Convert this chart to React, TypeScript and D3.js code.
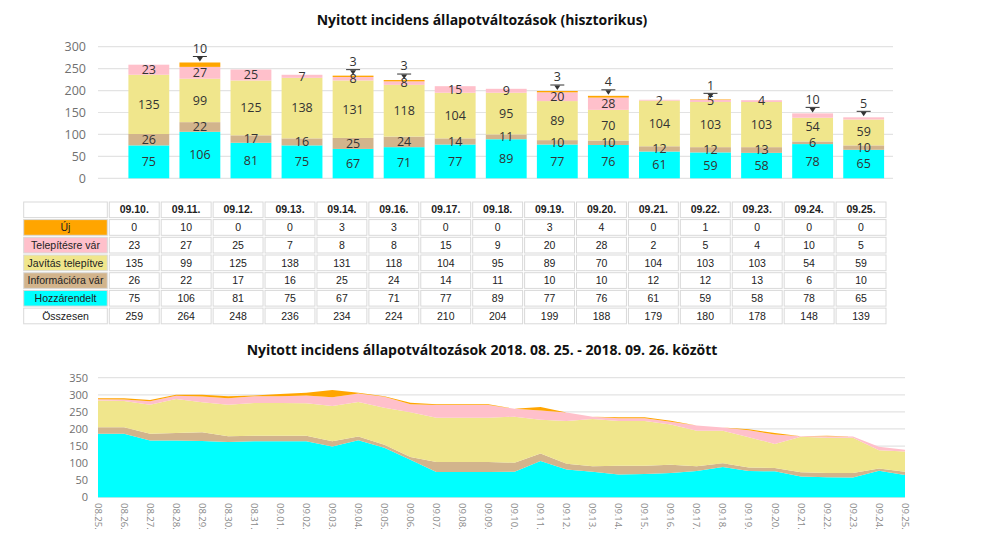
import React from "react";
import * as d3 from "d3";

// ---------- Top chart / table data ----------
const dates = ["09.10.", "09.11.", "09.12.", "09.13.", "09.14.", "09.16.", "09.17.", "09.18.", "09.19.", "09.20.", "09.21.", "09.22.", "09.23.", "09.24.", "09.25."];
const ujValues = [0, 10, 0, 0, 3, 3, 0, 0, 3, 4, 0, 1, 0, 0, 0];
const telepitesreVarValues = [23, 27, 25, 7, 8, 8, 15, 9, 20, 28, 2, 5, 4, 10, 5];
const javitasValues = [135, 99, 125, 138, 131, 118, 104, 95, 89, 70, 104, 103, 103, 54, 59];
const informaciotValues = [26, 22, 17, 16, 25, 24, 14, 11, 10, 10, 12, 12, 13, 6, 10];
const hozzarendeltValues = [75, 106, 81, 75, 67, 71, 77, 89, 77, 76, 61, 59, 58, 78, 65];
const osszesenValues = [259, 264, 248, 236, 234, 224, 210, 204, 199, 188, 179, 180, 178, 148, 139];

// ---------- Bottom area chart data ----------
const areaDates = ["08.25.", "08.26.", "08.27.", "08.28.", "08.29.", "08.30.", "08.31.", "09.01.", "09.02.", "09.03.", "09.04.", "09.05.", "09.06.", "09.07.", "09.08.", "09.09.", "09.10.", "09.11.", "09.12.", "09.13.", "09.14.", "09.15.", "09.16.", "09.17.", "09.18.", "09.19.", "09.20.", "09.21.", "09.22.", "09.23.", "09.24.", "09.25."];
const areaHozzarendelt = [186, 186, 166, 166, 165, 162, 164, 164, 164, 149, 167, 145, 110, 74, 74, 74, 75, 106, 81, 75, 67, 68, 71, 77, 89, 77, 76, 61, 59, 58, 78, 65];
const areaInformaciora = [19, 19, 20, 22, 25, 17, 16, 16, 16, 15, 11, 9, 8, 29, 29, 29, 26, 22, 17, 16, 25, 24, 24, 14, 11, 10, 10, 12, 12, 13, 6, 10];
const areaJavitas = [78, 77, 85, 100, 88, 92, 96, 96, 95, 103, 101, 108, 131, 130, 130, 130, 135, 99, 125, 138, 131, 131, 118, 104, 95, 89, 70, 104, 103, 103, 54, 59];
const areaTelepitesre = [4, 4, 10, 9, 17, 19, 20, 20, 23, 26, 25, 32, 23, 37, 37, 37, 23, 27, 25, 7, 8, 8, 8, 15, 9, 20, 28, 2, 5, 4, 10, 5];
const areaUj = [3, 4, 4, 3, 5, 6, 2, 6, 8, 21, 2, 2, 5, 2, 2, 2, 0, 10, 0, 0, 3, 3, 3, 0, 0, 3, 4, 0, 1, 0, 0, 0];

const topTicks = [0, 50, 100, 150, 200, 250, 300];
const areaTicks = [0, 50, 100, 150, 200, 250, 300, 350];

// series order bottom -> top
const seriesKeys = ["Hozzárendelt", "Információra vár", "Javítás telepítve", "Telepítésre vár", "Új"];
const seriesColors: Record<string, string> = {
  "Új": "#FFA500",
  "Telepítésre vár": "#FFC0CB",
  "Javítás telepítve": "#F0E68C",
  "Információra vár": "#D2B48C",
  "Hozzárendelt": "#00FFFF",
};
// labels drawn as callouts above the bar
const calloutExtra = [["09.24.", "Telepítésre vár"], ["09.25.", "Telepítésre vár"]];

const topRows = dates.map((d, i) => ({
  date: d,
  "Új": ujValues[i],
  "Telepítésre vár": telepitesreVarValues[i],
  "Javítás telepítve": javitasValues[i],
  "Információra vár": informaciotValues[i],
  "Hozzárendelt": hozzarendeltValues[i],
}));
const areaRows = areaDates.map((d, i) => ({
  date: d,
  "Új": areaUj[i],
  "Telepítésre vár": areaTelepitesre[i],
  "Javítás telepítve": areaJavitas[i],
  "Információra vár": areaInformaciora[i],
  "Hozzárendelt": areaHozzarendelt[i],
}));

const tableRows = [
  { label: "Új", values: ujValues, color: seriesColors["Új"] },
  { label: "Telepítésre vár", values: telepitesreVarValues, color: seriesColors["Telepítésre vár"] },
  { label: "Javítás telepítve", values: javitasValues, color: seriesColors["Javítás telepítve"] },
  { label: "Információra vár", values: informaciotValues, color: seriesColors["Információra vár"] },
  { label: "Hozzárendelt", values: hozzarendeltValues, color: seriesColors["Hozzárendelt"] },
  { label: "Összesen", values: osszesenValues, color: "#FFFFFF" },
];

const TITLE_FONT = "'Open Sans', 'Noto Sans', sans-serif";
const LABEL_FONT = "'Open Sans', 'Noto Sans', sans-serif";
const TABLE_FONT = "'Liberation Sans', Arial, sans-serif";

export default function App() {
  // ---- top bar chart ----
  const xBar = d3.scaleBand<string>().domain(dates).range([123.3, 889.2]).paddingInner(0.2).paddingOuter(0.1);
  const yBar = d3.scaleLinear().domain([0, 300]).range([178.3, 46.7]);
  const stack = d3.stack<any>().keys(seriesKeys);
  const barSeries = stack(topRows);

  const isCallout = (date: string, key: string, v: number) =>
    (key === "Új" && v > 0) || calloutExtra.some(([d, k]) => d === date && k === key);

  // build label list with simple collision avoidance per bar (bottom -> top)
  type Lbl = { key: string; date: string; v: number; x: number; y: number; callout: boolean; top: number };
  const labels: Lbl[] = [];
  dates.forEach((date) => {
    let prevY = Infinity;
    barSeries.forEach((s: any) => {
      const d = s.find((e: any) => e.data.date === date);
      const v = d[1] - d[0];
      if (v <= 0) return;
      const cx = (xBar(date) as number) + xBar.bandwidth() / 2;
      if (isCallout(date, s.key, v)) {
        labels.push({ key: s.key, date, v, x: cx, y: yBar(d[1]) - 14, callout: true, top: yBar(d[1]) });
        return;
      }
      let cy = (yBar(d[0]) + yBar(d[1])) / 2;
      if (prevY - cy < 16) cy = prevY - 16;
      prevY = cy;
      labels.push({ key: s.key, date, v, x: cx, y: cy, callout: false, top: yBar(d[1]) });
    });
  });

  // ---- table ----
  const tableLeft = 22.7;
  const labelColRight = 108.3;
  const tableRight = 887;
  const xCol = d3.scaleBand<string>().domain(dates).range([labelColRight, tableRight]);
  const headerTop = 201;
  const headerH = 17.6;
  const rowH = 17.7;

  // ---- bottom area chart ----
  const xArea = d3.scalePoint<string>().domain(areaDates).range([98, 905]);
  const yArea = d3.scaleLinear().domain([0, 350]).range([497.3, 377.7]);
  const areaSeries = stack(areaRows);
  const areaGen = d3
    .area<any>()
    .x((d: any) => xArea(d.data.date) as number)
    .y0((d: any) => yArea(d[0]))
    .y1((d: any) => yArea(d[1]))
    .curve(d3.curveLinear);

  return (
    <svg width={1000} height={546} style={{ position: "absolute", left: 0, top: 0, background: "#fff" }}>
      {/* ===== Top title ===== */}
      <text x={482} y={25} textAnchor="middle" fontFamily={TITLE_FONT} fontWeight={700} fontSize={14} fill="#111">
        Nyitott incidens állapotváltozások (hisztorikus)
      </text>

      {/* gridlines + y labels */}
      {topTicks.map((t) => (
        <g key={"tg" + t}>
          <line x1={98} x2={893} y1={yBar(t)} y2={yBar(t)} stroke="#e3e3e3" strokeWidth={1.2} />
          <text x={86} y={yBar(t)} dy="0.35em" textAnchor="end" fontFamily={LABEL_FONT} fontSize={12.5} fill="#707070">
            {t}
          </text>
        </g>
      ))}

      {/* stacked bars */}
      {barSeries.map((s: any) => (
        <g key={s.key}>
          {s.map((d: any) => {
            const h = yBar(d[0]) - yBar(d[1]);
            if (h <= 0) return null;
            return (
              <rect
                key={d.data.date}
                x={xBar(d.data.date)}
                y={yBar(d[1])}
                width={xBar.bandwidth()}
                height={h}
                fill={seriesColors[s.key]}
              />
            );
          })}
        </g>
      ))}

      {/* bar labels */}
      {labels.map((l) => {
        if (l.callout) {
          const lineY = l.top - 6;
          return (
            <g key={l.date + l.key}>
              <text x={l.x} y={l.y} dy="0.35em" textAnchor="middle" fontFamily={LABEL_FONT} fontSize={12.5} fill="#333">
                {l.v}
              </text>
              <line x1={l.x - 7} x2={l.x + 7} y1={lineY} y2={lineY} stroke="#333" strokeWidth={1} />
              <path d={`M${l.x - 3},${lineY + 0.5} L${l.x + 3},${lineY + 0.5} L${l.x},${l.top - 1} Z`} fill="#333" />
            </g>
          );
        }
        return (
          <text key={l.date + l.key} x={l.x} y={l.y} dy="0.35em" textAnchor="middle" fontFamily={LABEL_FONT} fontSize={12.5} fill="#333">
            {l.v}
          </text>
        );
      })}

      {/* ===== Table ===== */}
      <g fontFamily={TABLE_FONT} fontSize={10.5} fill="#222">
        <rect x={tableLeft + 1} y={headerTop + 1} width={labelColRight - tableLeft - 2} height={headerH - 2} fill="#fff" stroke="#d9d9d9" />
        {dates.map((d) => (
          <g key={"h" + d}>
            <rect x={(xCol(d) as number) + 1} y={headerTop + 1} width={xCol.bandwidth() - 2} height={headerH - 2} fill="#fff" stroke="#d9d9d9" />
            <text x={(xCol(d) as number) + xCol.bandwidth() / 2} y={headerTop + headerH / 2} dy="0.35em" textAnchor="middle" fontWeight={700}>
              {d}
            </text>
          </g>
        ))}
        {tableRows.map((r, ri) => {
          const top = headerTop + headerH + ri * rowH;
          return (
            <g key={"r" + r.label}>
              <rect x={tableLeft + 1} y={top + 1} width={labelColRight - tableLeft - 2} height={rowH - 2} fill={r.color} stroke="#d9d9d9" />
              <text x={(tableLeft + labelColRight) / 2} y={top + rowH / 2} dy="0.35em" textAnchor="middle">
                {r.label}
              </text>
              {dates.map((d, i) => (
                <g key={d}>
                  <rect x={(xCol(d) as number) + 1} y={top + 1} width={xCol.bandwidth() - 2} height={rowH - 2} fill="#fff" stroke="#d9d9d9" />
                  <text x={(xCol(d) as number) + xCol.bandwidth() / 2} y={top + rowH / 2} dy="0.35em" textAnchor="middle">
                    {r.values[i]}
                  </text>
                </g>
              ))}
            </g>
          );
        })}
      </g>

      {/* ===== Bottom title ===== */}
      <text x={482} y={355} textAnchor="middle" fontFamily={TITLE_FONT} fontWeight={700} fontSize={14} fill="#111">
        Nyitott incidens állapotváltozások 2018. 08. 25. - 2018. 09. 26. között
      </text>

      {areaTicks.map((t) => (
        <g key={"ag" + t}>
          <line x1={98} x2={905} y1={yArea(t)} y2={yArea(t)} stroke="#e3e3e3" strokeWidth={1.2} />
          <text x={88} y={yArea(t)} dy="0.35em" textAnchor="end" fontFamily={LABEL_FONT} fontSize={11} fill="#707070">
            {t}
          </text>
        </g>
      ))}

      {areaSeries.map((s: any) => (
        <path key={"a" + s.key} d={areaGen(s) as string} fill={seriesColors[s.key]} stroke="none" />
      ))}

      {areaDates.map((d) => {
        const x = xArea(d) as number;
        return (
          <text
            key={"xl" + d}
            transform={`translate(${x},503) rotate(90)`}
            dy="0.35em"
            textAnchor="start"
            fontFamily={LABEL_FONT}
            fontSize={9.5}
            fill="#8a8a8a"
          >
            {d}
          </text>
        );
      })}
    </svg>
  );
}
